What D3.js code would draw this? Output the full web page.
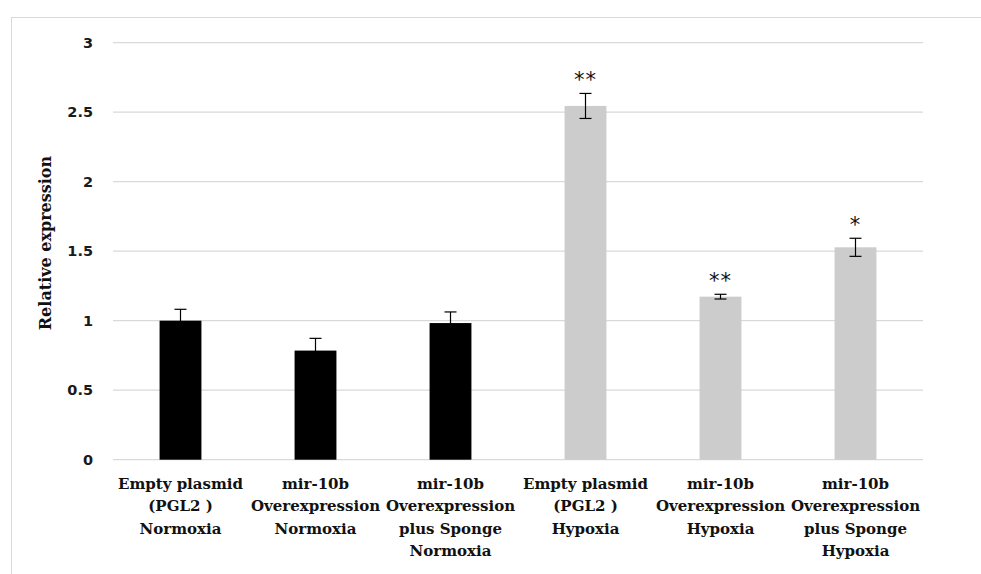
<!DOCTYPE html>
<html>
<head>
<meta charset="utf-8">
<script src="https://cdn.jsdelivr.net/npm/d3@7"></script>
<style>
  body { margin: 0; background: #fff; }
  .tick-label { font-family: Verdana, "DejaVu Sans", sans-serif; font-weight: bold; font-size: 14.5px; fill: #1a1a1a; }
  .cat-label { font-family: "Palatino Linotype", "DejaVu Serif", serif; font-weight: bold; font-size: 15px; fill: #111; }
</style>
</head>
<body>
<div id="chart"></div>
<script>
// groups on the x axis, each label split in lines
var categories = [
  ["Empty plasmid", "(PGL2 )", "Normoxia"],
  ["mir-10b", "Overexpression", "Normoxia"],
  ["mir-10b", "Overexpression", "plus Sponge", "Normoxia"],
  ["Empty plasmid", "(PGL2 )", "Hypoxia"],
  ["mir-10b", "Overexpression", "Hypoxia"],
  ["mir-10b", "Overexpression", "plus Sponge", "Hypoxia"]
];
var values = [1.0, 0.785, 0.983, 2.545, 1.173, 1.528];
var errors = [0.082, 0.088, 0.08, 0.09, 0.017, 0.065];
var conditions = ["Normoxia", "Normoxia", "Normoxia", "Hypoxia", "Hypoxia", "Hypoxia"];
var stars = ["", "", "", "**", "**", "*"];
var yTicks = [0, 0.5, 1, 1.5, 2, 2.5, 3];

var width = 981, height = 574;
var margin = {top: 42.7, right: 58, bottom: 114.3, left: 113};
var innerW = width - margin.left - margin.right;
var innerH = height - margin.top - margin.bottom;

var svg = d3.select("#chart").append("svg")
    .attr("width", width)
    .attr("height", height);

// outer chart frame
svg.append("rect")
    .attr("x", 11.5).attr("y", 17.5)
    .attr("width", 1000).attr("height", 600)
    .attr("fill", "none")
    .attr("stroke", "#d9d9d9");

var g = svg.append("g")
    .attr("transform", "translate(" + margin.left + "," + margin.top + ")");

var xScale = d3.scaleBand()
    .domain(d3.range(categories.length))
    .range([0, innerW])
    .paddingInner(0.69)
    .paddingOuter(0.345);

var yScale = d3.scaleLinear().domain([0, 3]).range([innerH, 0]);

var colour = d3.scaleOrdinal()
    .domain(["Normoxia", "Hypoxia"])
    .range(["#000000", "#cccccc"]);

// grid lines
g.selectAll("line.grid")
    .data(yTicks)
    .enter().append("line")
    .attr("class", "grid")
    .attr("x1", 0).attr("x2", innerW)
    .attr("y1", d => yScale(d)).attr("y2", d => yScale(d))
    .attr("stroke", "#d9d9d9")
    .attr("stroke-width", 1.3);

// y tick labels
var yAxis = g.append("g")
    .call(d3.axisLeft(yScale).tickValues(yTicks).tickFormat(d3.format("")).tickSize(0).tickPadding(20));
yAxis.select(".domain").remove();
yAxis.selectAll("text").attr("class", "tick-label").attr("fill", null);

// bars
g.selectAll("rect.bar")
    .data(values)
    .enter().append("rect")
    .attr("class", "bar")
    .attr("x", (d, i) => xScale(i))
    .attr("width", xScale.bandwidth())
    .attr("y", d => yScale(d))
    .attr("height", d => innerH - yScale(d))
    .attr("fill", (d, i) => colour(conditions[i]));

// error bars
var capW = 6;
var err = g.selectAll("g.err")
    .data(values)
    .enter().append("g")
    .attr("class", "err")
    .attr("stroke", "#000")
    .attr("stroke-width", 1.2);
err.append("line")
    .attr("x1", (d, i) => xScale(i) + xScale.bandwidth() / 2)
    .attr("x2", (d, i) => xScale(i) + xScale.bandwidth() / 2)
    .attr("y1", (d, i) => yScale(d + errors[i]))
    .attr("y2", (d, i) => yScale(d - errors[i]));
err.append("line")
    .attr("x1", (d, i) => xScale(i) + xScale.bandwidth() / 2 - capW)
    .attr("x2", (d, i) => xScale(i) + xScale.bandwidth() / 2 + capW)
    .attr("y1", (d, i) => yScale(d + errors[i]))
    .attr("y2", (d, i) => yScale(d + errors[i]));
err.append("line")
    .attr("x1", (d, i) => xScale(i) + xScale.bandwidth() / 2 - capW)
    .attr("x2", (d, i) => xScale(i) + xScale.bandwidth() / 2 + capW)
    .attr("y1", (d, i) => yScale(d - errors[i]))
    .attr("y2", (d, i) => yScale(d - errors[i]));

// significance stars
g.selectAll("text.star")
    .data(values)
    .enter().append("text")
    .attr("class", "star")
    .attr("x", (d, i) => xScale(i) + xScale.bandwidth() / 2)
    .attr("y", (d, i) => yScale(d + errors[i]) - 6)
    .attr("text-anchor", "middle")
    .style("font-family", "'DejaVu Sans', sans-serif")
    .style("font-size", "21px")
    .style("letter-spacing", "1px")
    .attr("fill", "#111")
    .text((d, i) => stars[i]);

// category labels
var cat = g.selectAll("text.cat-label")
    .data(categories)
    .enter().append("text")
    .attr("class", "cat-label")
    .attr("text-anchor", "middle")
    .attr("transform", (d, i) => "translate(" + (xScale(i) + xScale.bandwidth() / 2) + "," + (innerH + 29) + ")");
cat.selectAll("tspan")
    .data(d => d)
    .enter().append("tspan")
    .attr("x", 0)
    .attr("y", (d, j) => j * 22.5)
    .text(d => d);

// y axis title
svg.append("text")
    .attr("transform", "translate(51,243) rotate(-90)")
    .attr("text-anchor", "middle")
    .style("font-family", "'Palatino Linotype', 'DejaVu Serif', serif")
    .style("font-weight", "bold")
    .style("font-size", "16px")
    .attr("fill", "#111")
    .text("Relative expression");
</script>
</body>
</html>
